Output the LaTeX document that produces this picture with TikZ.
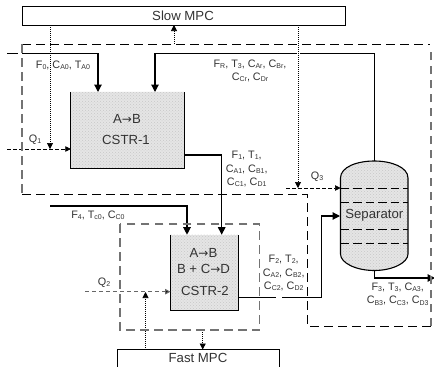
\documentclass[tikz,border=0pt]{standalone}
\usepackage{fontspec}
\setmainfont{Liberation Sans}
\newfontfamily\arrowfont{DejaVu Sans}
\usetikzlibrary{patterns,arrows.meta,calc}
\definecolor{txt}{gray}{0.2}
\definecolor{fillg}{gray}{0.9}
\tikzset{x=1pt,y=-1pt,
 stream/.style={draw=black,line width=1.15pt},
 streamA/.style={stream,-{Triangle[length=7.5pt,width=7.5pt]}},
 bound/.style={draw=black,line width=0.7pt,dash pattern=on 8.5pt off 5.5pt},
 boundg/.style={draw=black!55,line width=1.1pt,dash pattern=on 8.5pt off 5.5pt},
 heat/.style={draw=black,line width=0.7pt,dash pattern=on 3.5pt off 2.5pt,-{Triangle[length=5.5pt,width=5.5pt]}},
 heatg/.style={draw=black!60,line width=1.1pt,dash pattern=on 4pt off 3pt,-{Triangle[length=5.5pt,width=5.5pt,fill=black]}},
 sig/.style={draw=black,line width=0.6pt,dash pattern=on 1pt off 1pt,-{Triangle[length=6pt,width=6pt]}},
 vessel/.style={fill=fillg,draw=none,inner sep=0pt},
 dots/.style={pattern=crosshatch dots,pattern color=black!22},
 lab/.style={text=txt,font=\fontsize{10.8}{13.4}\selectfont,align=center,inner sep=0pt},
 blab/.style={text=txt,font=\fontsize{13.2}{16}\selectfont,align=center,inner sep=0pt},
 ctrl/.style={draw=black,fill=white,line width=0.9pt,inner sep=0pt}}
\newcommand{\sbs}[1]{\raisebox{-1.2pt}{\fontsize{7}{7}\selectfont #1}}
\newcommand{\arw}{{\arrowfont\fontsize{12}{12}\selectfont →}}
\begin{document}
\begin{tikzpicture}
\useasboundingbox (0,0) rectangle (434,367);
\path[fill=white] (0,0) rectangle (434,367);
% controllers
\node[ctrl,minimum width=323pt,minimum height=19pt] (slow) at (183.5,15.5) {};
\node[blab] (slowt) at (183,15.5) {Slow MPC};
\coordinate (fa) at (117,349.5);
\coordinate (fb) at (279,349.5);
\draw[line width=0.9pt] (117,368) -- (fa) -- (fb) -- (279,368);
\node[blab] (fastt) at (198,358) {Fast MPC};
% vessels
\node[vessel,minimum width=113pt,minimum height=76pt] (cstr1) at (127.5,130) {};
\node[vessel,minimum width=68pt,minimum height=75pt] (cstr2) at (204.7,272.5) {};
\path[dots] (cstr1.north west) rectangle (cstr1.south east);
\path[dots] (cstr2.north west) rectangle (cstr2.south east);
\draw[line width=1.15pt] (cstr1.north west) -- (cstr1.south west) -- (cstr1.south east) -- (cstr1.north east);
\draw[line width=1.15pt] (cstr2.north west) -- (cstr2.south west) -- (cstr2.south east) -- (cstr2.north east);
% separator
\node[inner sep=0pt,minimum width=68pt,minimum height=109.5pt] (sep) at (374.3,215.7) {};
\def\seppath{(340.5,178) .. controls (340.5,167) and (357,161) .. (374.3,161) .. controls (391,161) and (408,167) .. (408,178) -- (408,254) .. controls (408,263) and (392,270.5) .. (374.3,270.5) .. controls (356,270.5) and (340.5,263) .. (340.5,254) -- cycle}
\path[fill=fillg] \seppath;
\path[dots] \seppath;
\draw[line width=1.1pt] \seppath;
\foreach \yy in {188,202,229.7,243.5}
  \draw[line width=0.9pt,dash pattern=on 8.5pt off 4pt] (340.5,\yy) -- (408,\yy);
% coordinates for free ends
\coordinate (f0s) at (7,53.5);
\coordinate (f0c) at (98,53.5);
\coordinate (rc) at (155,53.5);
\coordinate (f4s) at (50,206);
\coordinate (q1s) at (7,149);
\coordinate (q2s) at (85,291.7);
\coordinate (q3s) at (286,188);
\coordinate (q3e) at (340.5,188);
\coordinate (out) at (435,278);
\coordinate (bt) at (174,44);
\coordinate (bb) at (202.7,330);
% dotted signals
\draw[sig] (50,25) -- (50,149);
\draw[sig] (bt) -- (174,25);
\draw[sig] (145.5,349.5) -- (145.5,292);
\draw[sig] (bb) -- (202.7,349.5);
% streams
\draw[streamA] (f0s) -- (f0c) -- (98,92);
\draw[streamA] (sep.north) -- (374.3,53.5) -- (rc) -- (155,92);
\draw[streamA] (cstr1.east |- 0,155) -- (221.7,155) -- (221.7,234.7);
\draw[streamA] (f4s) -- (187,206) -- (187,234.7);
\draw[streamA] (cstr2.east |- 0,297.7) -- (321.7,297.7) -- (321.7,216) -- (340,216);
\draw[streamA] (sep.south) -- (374.3,278) -- (out);
% gaps
\draw[white,line width=1.6pt] (18,53.5) -- (22,53.5);
\draw[white,line width=1.8pt] (276,297.7) -- (281.5,297.7);
\draw[white,line width=3pt] (298,52) -- (298,55);
\draw[sig] (298,25) -- (298,188);
% heat
\draw[heat] (q1s) -- (cstr1.west |- q1s);
\draw[heat] (q3s) -- (q3e);
\draw[heatg] (q2s) -- (cstr2.west |- q2s);
% boundaries
\draw[bound] (22,44) -- (430,44);
\draw[boundg] (22,44) -- (22,193);
\draw[bound] (22,194) -- (307,194) -- (307,326) -- (431,326);
\draw[boundg] (431,326) -- (431,50);
\draw[boundg] (120,224) rectangle (259.7,330);
% labels
\node[blab] (t1a) at (127,119) {A\arw{}B};
\node[blab] (t1b) at (126,140) {CSTR-1};
\node[blab] (t2a) at (203.5,253) {A\arw{}B};
\node[blab] (t2b) at (203.5,269) {B + C\arw{}D};
\node[blab] (t2c) at (205,291) {CSTR-2};
\node[blab] (t3) at (374.3,215.7) {Separator};
\node[lab] (lq1) at (35,140) {Q\sbs{1}};
\node[lab] (lq2) at (104,282.7) {Q\sbs{2}};
\node[lab] (lq3) at (317,177) {Q\sbs{3}};
\node[lab] (l0) at (63,65) {F\sbs{0}, C\sbs{A0}, T\sbs{A0}};
\node[lab] (lr) at (250,71) {F\sbs{R}, T\sbs{3}, C\sbs{Ar}, C\sbs{Br},\\C\sbs{Cr}, C\sbs{Dr}};
\node[lab] (l1) at (246.7,169) {F\sbs{1}, T\sbs{1},\\C\sbs{A1}, C\sbs{B1},\\C\sbs{C1}, C\sbs{D1}};
\node[lab] (l4) at (98,215.7) {F\sbs{4}, T\sbs{c0}, C\sbs{C0}};
\node[lab] (l2) at (283.7,273) {F\sbs{2}, T\sbs{2},\\C\sbs{A2}, C\sbs{B2},\\C\sbs{C2}, C\sbs{D2}};
\node[lab] (l3) at (397.7,294.2) {F\sbs{3}, T\sbs{3}, C\sbs{A3},\\C\sbs{B3}, C\sbs{C3}, C\sbs{D3}};
\end{tikzpicture}
\end{document}
